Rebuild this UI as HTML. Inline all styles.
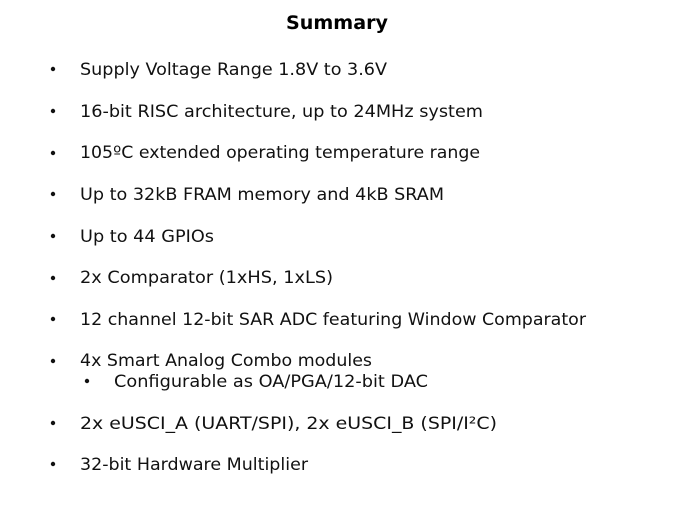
<!DOCTYPE html>
<html>
<head>
<meta charset="utf-8">
<style>
html,body{margin:0;padding:0;background:#fff;}
body{width:675px;height:506px;overflow:hidden;}
svg{display:block;}
text{font-family:"DejaVu Sans",sans-serif;font-size:17px;fill:#111;}
</style>
</head>
<body>
<svg width="675" height="506" viewBox="0 0 675 506" xmlns="http://www.w3.org/2000/svg">
<text x="286" y="29" textLength="102" lengthAdjust="spacingAndGlyphs" style="font-weight:bold;font-size:19px;fill:#000">Summary</text>
<g fill="#111">
<circle cx="53" cy="69" r="2.2"/><circle cx="53" cy="111" r="2.2"/><circle cx="53" cy="153" r="2.2"/><circle cx="53" cy="194" r="2.2"/><circle cx="53" cy="236" r="2.2"/><circle cx="53" cy="278" r="2.2"/><circle cx="53" cy="319" r="2.2"/><circle cx="53" cy="361" r="2.2"/><circle cx="87" cy="381" r="2.2"/><circle cx="53" cy="423" r="2.2"/><circle cx="53" cy="464" r="2.2"/>
</g>
<text x="80" y="75" textLength="307" lengthAdjust="spacingAndGlyphs">Supply Voltage Range 1.8V to 3.6V</text>
<text x="80" y="117" textLength="403" lengthAdjust="spacingAndGlyphs">16-bit RISC architecture, up to 24MHz system</text>
<text x="80" y="158" textLength="400" lengthAdjust="spacingAndGlyphs">105ºC extended operating temperature range</text>
<text x="80" y="200" textLength="364" lengthAdjust="spacingAndGlyphs">Up to 32kB FRAM memory and 4kB SRAM</text>
<text x="80" y="242" textLength="134" lengthAdjust="spacingAndGlyphs">Up to 44 GPIOs</text>
<text x="80" y="283" textLength="253" lengthAdjust="spacingAndGlyphs">2x Comparator (1xHS, 1xLS)</text>
<text x="80" y="325" textLength="506" lengthAdjust="spacingAndGlyphs">12 channel 12-bit SAR ADC featuring Window Comparator</text>
<text x="80" y="366" textLength="292" lengthAdjust="spacingAndGlyphs">4x Smart Analog Combo modules</text>
<text x="114" y="387" textLength="314" lengthAdjust="spacingAndGlyphs">Configurable as OA/PGA/12-bit DAC</text>
<text x="80" y="429" textLength="417" lengthAdjust="spacingAndGlyphs">2x eUSCI_A (UART/SPI), 2x eUSCI_B (SPI/I²C)</text>
<text x="80" y="470" textLength="228" lengthAdjust="spacingAndGlyphs">32-bit Hardware Multiplier</text>
</svg>
</body>
</html>
